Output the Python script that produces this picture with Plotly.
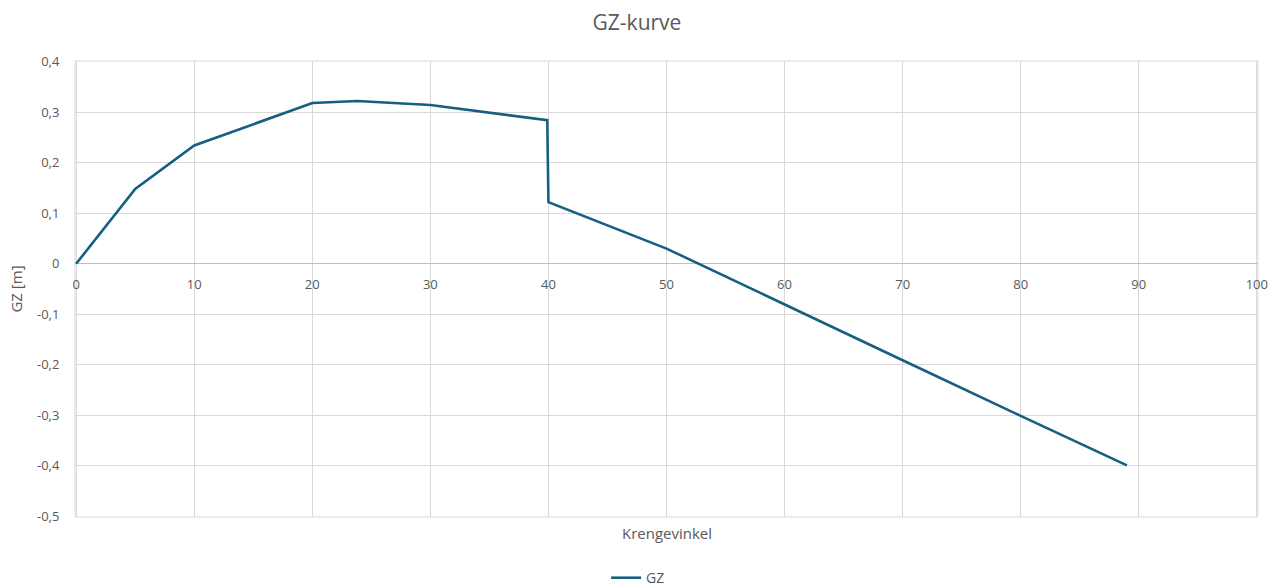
import plotly.graph_objects as go

krengevinkel = [0, 5, 10, 20, 23.8, 30, 39.9, 40, 50, 60, 70, 80, 89]
gz = [0, 0.148, 0.234, 0.318, 0.322, 0.314, 0.284, 0.122, 0.030, -0.081, -0.191, -0.301, -0.399]

x_ticks = [0, 10, 20, 30, 40, 50, 60, 70, 80, 90, 100]
y_ticks = [0.4, 0.3, 0.2, 0.1, 0, -0.1, -0.2, -0.3, -0.4, -0.5]
y_ticktext = ["0,4", "0,3", "0,2", "0,1", "0", "-0,1", "-0,2", "-0,3", "-0,4", "-0,5"]

font_family = "Open Sans, Lato, sans-serif"
text_color = "#595959"
grid_color = "#d9d9d9"

fig = go.Figure()
fig.add_trace(go.Scatter(
    x=krengevinkel, y=gz, mode="lines", name="GZ",
    line=dict(color="#156082", width=2.6),
))

ymin, ymax = -0.5012, 0.4012
zero_pos = (0 - ymin) / (ymax - ymin)

fig.update_layout(
    width=1274, height=587,
    margin=dict(l=75, r=16, t=61, b=70, autoexpand=False),
    paper_bgcolor="white", plot_bgcolor="white",
    font=dict(family=font_family, color=text_color, size=13),
    title=dict(text="GZ-kurve", x=0.5, xanchor="center", y=0.962, yanchor="middle",
               font=dict(size=21, color=text_color)),
    showlegend=True,
    legend=dict(orientation="h", x=0.476, xanchor="center", y=-0.134, yanchor="middle",
                font=dict(size=14, color=text_color)),
    xaxis=dict(
        range=[-0.1, 100.1], tickvals=x_ticks, showgrid=True, gridcolor=grid_color, gridwidth=1,
        zeroline=False, showline=False, anchor="free", position=zero_pos,
        ticks="outside", ticklen=9, tickcolor="rgba(0,0,0,0)",
        tickfont=dict(size=13, color=text_color),
    ),
    yaxis=dict(
        range=[ymin, ymax], tickvals=y_ticks, ticktext=y_ticktext,
        showgrid=True, gridcolor=grid_color, gridwidth=1,
        zeroline=True, zerolinecolor="#bfbfbf", zerolinewidth=1,
        ticks="outside", ticklen=12, tickcolor="rgba(0,0,0,0)",
        tickfont=dict(size=13, color=text_color),
        title=dict(text="GZ [m]", font=dict(size=15, color=text_color), standoff=10),
    ),
    shapes=[dict(
        type="rect", xref="paper", yref="paper", x0=0, x1=1, y0=0, y1=1,
        line=dict(color=grid_color, width=1), fillcolor="rgba(0,0,0,0)", layer="below",
    )],
    annotations=[dict(
        text="Krengevinkel", xref="paper", yref="paper", x=0.5, y=-0.035,
        xanchor="center", yanchor="middle", showarrow=False,
        font=dict(size=15, color=text_color),
    )],
)

fig.write_html("out.html", config={"displayModeBar": False},
               post_script="document.body.style.margin='0';")
